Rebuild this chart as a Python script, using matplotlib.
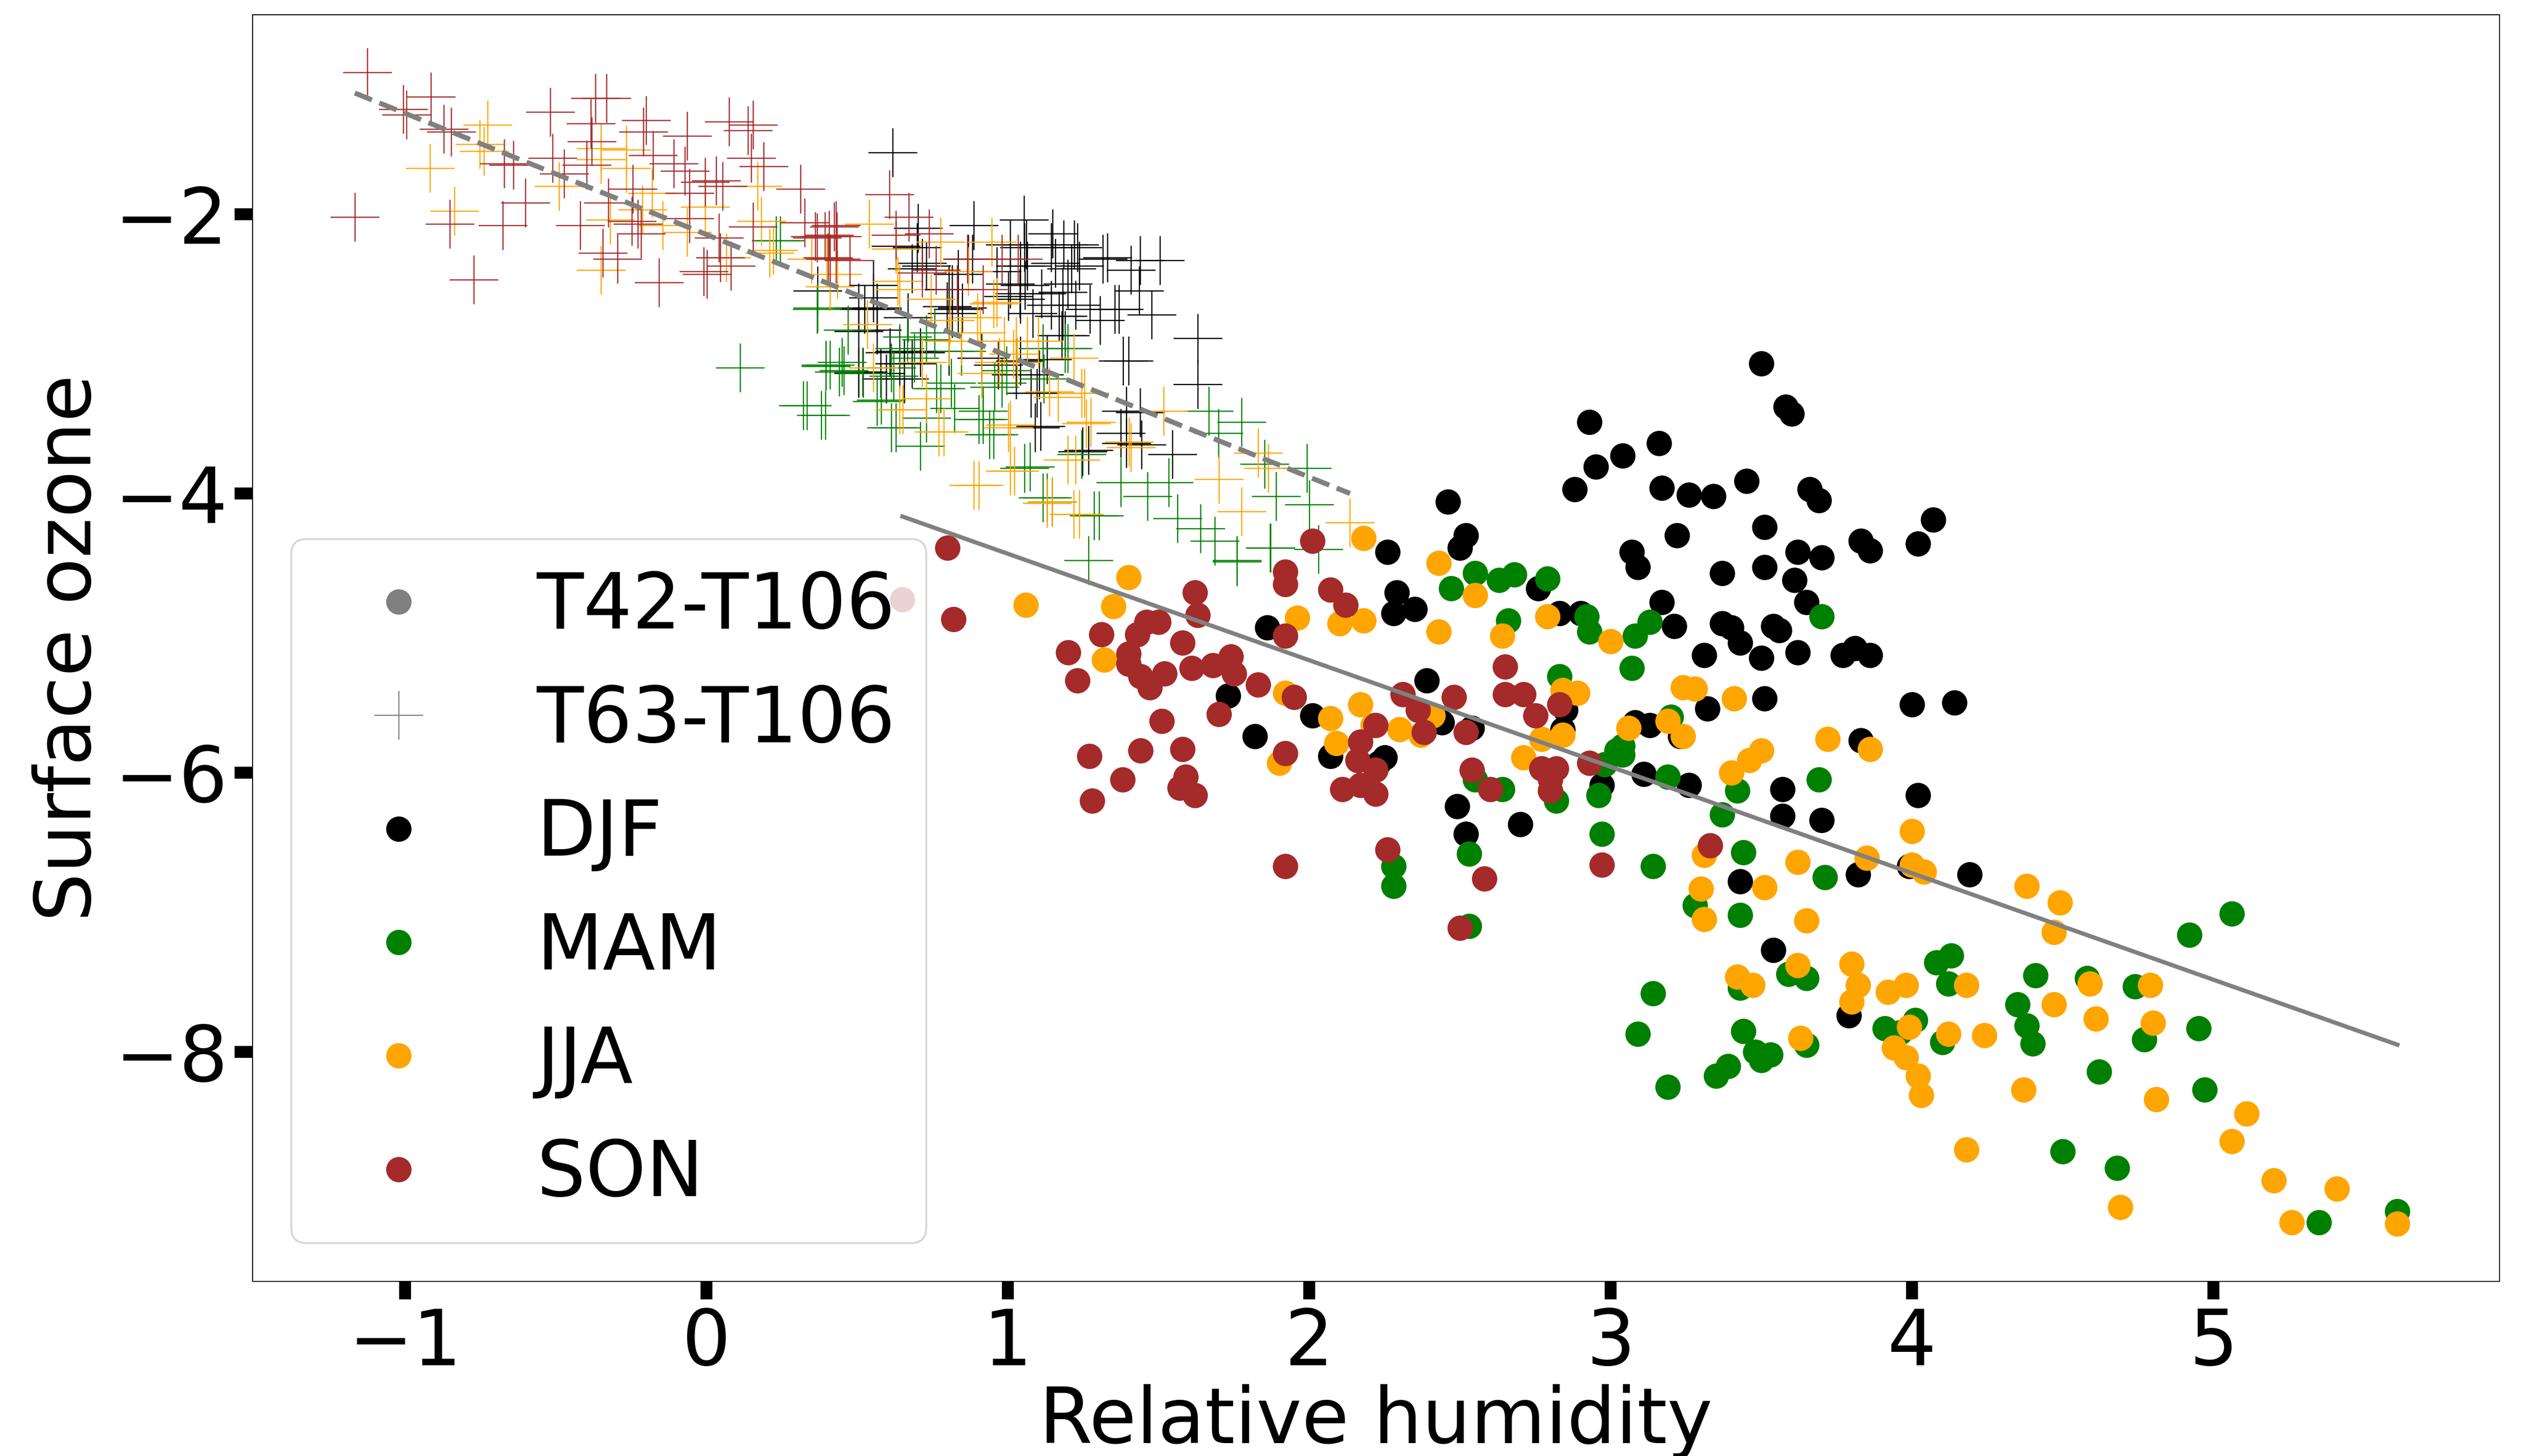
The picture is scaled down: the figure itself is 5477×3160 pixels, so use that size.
import numpy as np
import matplotlib
matplotlib.use("Agg")
from matplotlib import pyplot as plt
from matplotlib.lines import Line2D

# seasonal points, (relative humidity, surface ozone)
djf_dots = [(3.50,-3.07),(2.93,-3.49),(2.95,-3.81),(3.04,-3.73),(2.88,-3.97),(3.16,-3.64),(3.17,-3.96),
            (3.26,-4.01),(3.34,-4.02),(3.45,-3.91),(3.58,-3.38),(3.60,-3.43),(3.66,-3.97),(3.69,-4.05),
            (3.51,-4.24),(3.62,-4.42),(3.70,-4.46),(3.83,-4.34),(3.86,-4.41),(4.02,-4.36),(4.07,-4.19),
            (3.07,-4.42),(3.09,-4.53),(3.22,-4.30),(3.37,-4.57),(3.51,-4.53),(3.61,-4.62),(3.65,-4.78),
            (2.46,-4.06),(2.52,-4.30),(2.50,-4.39),(2.26,-4.42),(2.29,-4.71),(2.35,-4.83),(2.28,-4.86),
            (2.76,-4.68),(2.83,-4.86),(2.90,-4.86),(3.17,-4.78),(3.21,-4.95),(3.37,-4.93),(3.40,-4.96),
            (3.43,-5.07),(3.31,-5.16),(3.54,-4.95),(3.56,-4.98),(3.50,-5.18),(3.62,-5.14),(3.77,-5.16),
            (3.81,-5.11),(3.86,-5.16),(4.00,-5.51),(4.14,-5.50),(3.51,-5.47),(3.13,-5.66),(3.32,-5.54),
            (3.83,-5.77),(4.02,-6.16),(4.19,-6.73),(3.99,-6.67),(3.82,-6.73),(3.43,-6.78),(3.54,-7.27),
            (3.79,-7.74),(3.70,-6.34),(3.57,-6.31),(3.57,-6.12),(3.23,-5.74),(3.26,-6.09),(3.11,-6.01),
            (2.97,-6.09),(3.08,-5.64),(2.85,-5.55),(2.84,-5.69),(2.70,-6.37),(2.52,-6.44),(2.49,-6.24),
            (2.54,-5.68),(2.44,-5.64),(2.39,-5.34),(2.25,-5.89),(2.23,-5.93),(2.07,-5.88),(2.01,-5.59),
            (1.86,-4.96),(1.82,-5.74),(1.73,-5.45)]

mam_dots = [(2.55,-4.57),(2.63,-4.62),(2.68,-4.58),(2.79,-4.61),(2.47,-4.68),(2.66,-4.91),(2.92,-4.88),
            (2.93,-4.99),(3.13,-4.92),(3.08,-5.02),(2.83,-5.31),(3.07,-5.25),(3.70,-4.88),(2.55,-6.05),
            (2.64,-6.12),(2.80,-6.13),(2.82,-6.20),(2.96,-6.16),(2.98,-5.94),(3.02,-5.84),(3.04,-5.81),
            (3.20,-5.60),(3.04,-5.87),(3.19,-6.03),(3.42,-6.13),(3.37,-6.30),(3.44,-6.57),(3.69,-6.05),
            (3.71,-6.75),(2.97,-6.44),(2.53,-6.58),(2.28,-6.67),(2.28,-6.81),(2.53,-7.10),(3.14,-6.67),
            (3.28,-6.95),(3.43,-7.02),(3.14,-7.58),(3.09,-7.87),(3.19,-8.25),(3.43,-7.54),(3.44,-7.85),
            (3.39,-8.10),(3.50,-8.06),(3.48,-8.00),(3.53,-8.02),(3.35,-8.17),(3.65,-7.95),(3.59,-7.44),
            (3.65,-7.47),(3.91,-7.83),(3.96,-7.86),(4.01,-7.77),(4.10,-7.93),(4.12,-7.51),(4.08,-7.36),
            (4.13,-7.31),(4.35,-7.66),(4.38,-7.81),(4.40,-7.94),(4.41,-7.45),(4.50,-8.71),(4.62,-8.14),
            (4.68,-8.83),(4.74,-7.53),(4.77,-7.91),(4.95,-7.83),(4.97,-8.27),(4.92,-7.16),(5.06,-7.01),
            (5.35,-9.22),(5.61,-9.14),(4.58,-7.47)]

jja_dots = [(2.18,-4.32),(1.40,-4.60),(1.06,-4.80),(1.35,-4.81),(1.32,-5.19),(2.43,-4.50),(2.10,-4.93),
            (2.18,-4.91),(2.17,-5.51),(1.96,-4.89),(2.43,-4.99),(2.55,-4.73),(2.64,-5.02),(2.79,-4.88),
            (3.00,-5.06),(2.84,-5.41),(2.89,-5.43),(3.24,-5.39),(3.28,-5.40),(3.41,-5.47),(3.50,-5.84),
            (3.72,-5.76),(3.86,-5.83),(3.40,-6.00),(3.46,-5.91),(3.06,-5.68),(2.84,-5.73),(2.77,-5.76),
            (2.71,-5.89),(2.41,-5.59),(2.37,-5.73),(2.30,-5.69),(2.21,-5.66),(2.09,-5.79),(2.07,-5.61),
            (1.92,-5.43),(1.90,-5.93),(3.24,-5.74),(3.19,-5.63),(3.31,-6.59),(3.30,-6.83),(3.31,-7.05),
            (3.51,-6.82),(3.62,-6.64),(3.65,-7.06),(3.85,-6.61),(4.00,-6.42),(4.00,-6.66),(4.04,-6.71),
            (4.38,-6.81),(4.49,-6.93),(4.47,-7.14),(3.42,-7.46),(3.47,-7.52),(3.62,-7.38),(3.63,-7.90),
            (3.80,-7.37),(3.82,-7.52),(3.80,-7.64),(3.92,-7.57),(3.98,-7.52),(3.99,-7.82),(3.98,-8.04),
            (4.02,-8.17),(4.03,-8.31),(3.94,-7.97),(4.12,-7.87),(4.18,-7.52),(4.24,-7.88),(4.18,-8.70),
            (4.37,-8.27),(4.47,-7.66),(4.59,-7.51),(4.61,-7.76),(4.69,-9.11),(4.79,-7.52),(4.80,-7.79),
            (4.81,-8.34),(5.06,-8.64),(5.11,-8.44),(5.20,-8.92),(5.26,-9.22),(5.41,-8.98),(5.61,-9.23)]

son_dots = [(0.80,-4.39),(0.65,-4.76),(0.82,-4.90),(1.20,-5.14),(1.23,-5.34),(1.31,-5.01),(1.40,-5.15),
            (1.43,-5.01),(1.46,-4.92),(1.50,-4.92),(1.40,-5.22),(1.44,-5.31),(1.47,-5.39),(1.52,-5.29),
            (1.62,-4.71),(1.63,-4.87),(1.58,-5.07),(1.61,-5.25),(1.68,-5.23),(1.74,-5.17),(1.75,-5.29),
            (1.92,-4.56),(1.92,-4.65),(1.92,-5.02),(2.01,-4.34),(2.07,-4.69),(2.12,-4.80),(1.27,-5.88),
            (1.28,-6.20),(1.38,-6.05),(1.44,-5.84),(1.51,-5.63),(1.58,-5.83),(1.59,-6.03),(1.57,-6.11),
            (1.62,-6.16),(1.70,-5.58),(1.83,-5.37),(1.92,-5.86),(1.95,-5.46),(1.92,-6.67),(2.11,-6.12),
            (2.16,-5.91),(2.17,-6.09),(2.22,-5.98),(2.22,-6.15),(2.17,-5.78),(2.22,-5.66),(2.31,-5.44),
            (2.26,-6.55),(2.36,-5.55),(2.48,-5.46),(2.50,-7.11),(2.54,-5.98),(2.58,-6.76),(2.60,-6.12),
            (2.65,-5.44),(2.71,-5.44),(2.75,-5.59),(2.77,-5.97),(2.80,-6.05),(2.82,-5.97),(2.83,-5.51),
            (2.80,-6.13),(2.93,-5.93),(2.97,-6.66),(3.33,-6.52),(2.65,-5.24),(2.52,-5.71),(2.38,-5.71)]

djf_cross = [(0.618,-1.56),(0.887,-2.08),(1.053,-2.04),(1.148,-2.14),(1.184,-2.22),(1.143,-2.24),
             (1.231,-2.24),(1.008,-2.22),(1.055,-2.24),(1.314,-2.32),(1.438,-2.33),(1.504,-2.33),
             (1.408,-2.40),(1.211,-2.39),(1.041,-2.37),(0.868,-2.32),(0.715,-2.35),(0.681,-2.39),
             (0.369,-2.55),(0.553,-2.51),(0.553,-2.60),(0.566,-2.68),(0.505,-2.84),(0.525,-2.68),
             (0.668,-2.74),(0.641,-2.98),(0.641,-3.07),(0.505,-3.14),(0.577,-3.14),(0.681,-3.07),
             (0.798,-2.66),(0.834,-2.68),(0.804,-2.54),(0.804,-2.98),(1.008,-2.50),(1.040,-2.57),
             (1.041,-2.61),(1.082,-2.71),(1.143,-2.65),(1.198,-2.50),(1.225,-2.65),(1.306,-2.76),
             (1.272,-2.68),(1.355,-2.68),(1.435,-2.55),(1.477,-2.72),(1.170,-2.73),(1.178,-2.87),
             (1.129,-3.04),(1.028,-3.06),(1.028,-3.15),(1.076,-3.28),(1.090,-3.53),(1.382,-3.05),
             (1.629,-2.89),(1.629,-3.22),(1.438,-3.42),(1.374,-3.57),(1.443,-3.65),(1.545,-3.72),
             (1.248,-3.70),(0.913,-3.03),(0.967,-3.08),(0.702,-2.10),(0.834,-2.43),(0.505,-2.67),
             (0.505,-3.13),(0.565,-2.67),(0.565,-2.83),(0.518,-3.13),(0.608,-2.99),(0.655,-3.07),
             (0.709,-2.99),(0.655,-3.18),(0.596,-3.18),(0.698,-2.24),(0.628,-2.23),(0.729,-2.37),
             (0.814,-2.54),(0.849,-2.67),(0.814,-2.71),(0.882,-2.32),(1.061,-2.22),(1.064,-2.37),
             (1.158,-2.35),(1.220,-2.22),(1.236,-2.37),(1.330,-2.31),(1.056,-2.51),(1.111,-2.57),
             (1.181,-2.56),(1.181,-2.73),(1.369,-2.68),(1.189,-2.87),(1.041,-3.05),(1.103,-3.15),
             (1.096,-3.28),(1.108,-3.52),(1.267,-3.69),(1.392,-3.41),(1.392,-3.64),(1.400,-3.05),
             (0.963,-2.41),(1.002,-2.59)]

mam_cross = [(0.381,-3.44),(0.321,-3.37),(0.396,-3.09),(0.450,-3.06),(0.613,-3.53),(0.709,-3.66),
             (0.566,-3.34),(0.519,-3.14),(0.367,-2.68),(0.641,-2.96),(0.763,-3.25),(0.811,-3.21),
             (0.903,-3.47),(0.939,-3.58),(1.055,-3.82),(1.129,-4.03),(1.286,-4.16),(1.268,-4.48),
             (1.245,-3.72),(1.374,-3.92),(1.463,-4.02),(1.534,-3.92),(1.562,-4.18),(1.639,-4.25),
             (1.687,-4.34),(1.759,-4.48),(1.775,-3.49),(1.699,-3.57),(1.667,-3.41),(1.851,-3.79),
             (1.890,-4.02),(2.000,-4.08),(1.992,-3.82),(1.871,-4.39),(2.030,-4.40),(1.116,-2.96),
             (1.198,-2.96),(0.980,-3.21),(0.613,-3.10),(0.845,-2.98),(0.756,-2.85),(0.111,-3.10),
             (0.396,-3.08),(0.440,-3.13),(0.231,-2.19),(0.368,-2.67),(0.469,-2.83),(1.760,-4.49),
             (1.870,-4.39),(0.409,-3.08),(0.456,-3.12),(0.333,-3.37),(0.394,-3.44),(0.628,-3.53),
             (0.580,-3.33),(0.917,-3.41),(0.917,-3.47),(0.952,-3.58),(1.073,-3.81),(1.116,-4.03),
             (1.146,-4.06),(1.302,-4.16),(0.822,-3.39),(0.776,-3.25),(0.729,-3.46),(0.995,-3.12),
             (1.119,-3.18),(1.189,-2.96),(0.690,-3.03),(0.666,-2.88),(0.729,-2.90),(0.620,-3.16),
             (0.245,-2.19),(0.955,-3.24)]

jja_cross = [(-0.726,-1.36),(-0.753,-1.50),(-0.738,-1.55),(-0.918,-1.67),(-0.836,-1.98),(-0.489,-1.80),
             (-0.350,-1.53),(-0.266,-1.54),(-0.350,-1.61),(-0.266,-1.67),(-0.181,-1.85),(-0.320,-2.04),
             (-0.350,-2.40),(-0.005,-1.95),(-0.065,-2.13),(0.170,-1.80),(0.181,-2.05),(0.066,-2.31),
             (0.210,-2.28),(0.399,-2.31),(0.434,-2.43),(0.539,-2.07),(-0.146,-2.08),(-0.212,-1.97),
             (0.776,-2.20),(0.947,-2.20),(0.348,-2.32),(0.641,-2.54),(0.953,-2.64),(0.899,-2.74),
             (0.804,-2.91),(0.988,-2.91),(1.028,-2.91),(1.218,-3.03),(0.715,-3.06),(0.553,-3.10),
             (0.913,-3.14),(1.137,-3.27),(1.253,-3.28),(0.729,-3.32),(0.641,-3.40),(0.770,-3.56),
             (1.008,-3.51),(1.259,-3.50),(1.198,-3.76),(1.008,-3.84),(0.887,-3.94),(1.129,-4.07),
             (1.218,-4.15),(1.402,-3.63),(1.408,-3.67),(1.517,-3.41),(1.830,-3.71),(1.864,-3.82),
             (1.700,-3.90),(1.775,-4.13),(2.135,-4.21),(1.030,-3.06),(1.100,-2.91),(0.904,-3.94),
             (1.021,-3.84),(1.146,-4.06),(1.236,-4.15),(1.224,-3.76),(1.275,-3.49),(0.787,-3.56),
             (0.651,-3.40),(1.002,-3.53),(1.166,-3.31),(1.244,-3.28),(0.970,-3.06),(0.846,-2.91),
             (0.908,-2.85),(1.064,-2.91),(1.018,-3.00),(0.744,-2.61),(0.635,-2.48),(0.534,-2.79),
             (0.409,-2.52),(0.628,-2.25),(0.222,-2.26),(0.963,-2.63),(0.807,-2.76),(0.869,-2.41)]

son_cross = [(-1.125,-0.985),(-0.915,-1.16),(-1.006,-1.25),(-0.995,-1.29),(-0.871,-1.39),(-0.848,-1.41),
             (-0.518,-1.27),(-0.368,-1.17),(-0.332,-1.17),(-0.384,-1.35),(-0.201,-1.33),(-0.210,-1.41),
             (-0.065,-1.44),(0.075,-1.34),(0.154,-1.36),(0.138,-1.40),(0.148,-1.60),(0.190,-1.66),
             (0.311,-1.82),(-0.671,-1.64),(-0.641,-1.65),(-1.167,-2.02),(-0.852,-2.07),(-0.676,-2.08),
             (-0.601,-1.92),(-0.772,-2.47),(-0.511,-1.60),(-0.472,-1.71),(-0.381,-1.48),(-0.397,-1.65),
             (-0.419,-2.08),(-0.295,-2.32),(-0.245,-1.82),(-0.228,-2.07),(-0.157,-2.49),(-0.177,-1.58),
             (-0.108,-1.64),(-0.072,-1.69),(-0.056,-1.85),(-0.056,-2.03),(-0.005,-1.77),(0.032,-1.76),
             (0.053,-1.80),(0.041,-2.17),(-0.009,-2.41),(0.002,-2.43),(0.081,-2.37),(0.045,-2.31),
             (-0.217,-2.14),(0.154,-2.09),(0.326,-2.06),(0.361,-2.16),(0.392,-2.16),(0.403,-2.31),
             (0.429,-2.08),(0.475,-2.33),(-0.344,-2.28),(-0.248,-2.05),(-0.326,-1.92),(0.607,-1.86),
             (0.671,-2.02),(0.423,-2.09),(0.367,-2.17),(0.406,-2.15),(0.429,-2.32),(0.865,-2.32),
             (0.738,-2.14),(0.715,-2.42),(0.831,-2.54),(0.980,-2.32),(0.432,-2.16),(0.628,-2.15),
             (0.761,-2.40),(0.409,-2.32),(1.033,-2.32),(0.917,-2.54)]

seasons = ["DJF", "MAM", "JJA", "SON"]
colors = ["black", "green", "orange", "brown"]
dots = [djf_dots, mam_dots, jja_dots, son_dots]
crosses = [djf_cross, mam_cross, jja_cross, son_cross]

FS = 40
DOT = 13.2
CROSS = 25.6

fig = plt.figure(figsize=(5477/300, 3160/300), dpi=300)
ax = fig.add_axes([0.1001, 0.1199, 0.8902, 0.8700])

for pts, c in zip(crosses, colors):
    x, y = np.array(pts).T
    ax.plot(x, y, ls="", marker="+", ms=CROSS, mew=0.6, color=c)

for pts, c in zip(dots, colors):
    x, y = np.array(pts).T
    ax.plot(x, y, ls="", marker="o", ms=DOT, mew=0, color=c)

# linear fits over each set
allc = np.vstack([np.array(p) for p in crosses])
alld = np.vstack([np.array(p) for p in dots])
for arr, ls, lw in [(allc, "--", 2.6), (alld, "-", 2.2)]:
    k, b = np.polyfit(arr[:, 0], arr[:, 1], 1)
    xx = np.array([arr[:, 0].min(), arr[:, 0].max()])
    ax.plot(xx, k*xx + b, ls=ls, lw=lw, color="gray")

handles = [Line2D([], [], ls="", marker="o", ms=DOT, mew=0, color="gray"),
           Line2D([], [], ls="", marker="+", ms=CROSS, mew=0.6, color="gray")]
handles += [Line2D([], [], ls="", marker="o", ms=DOT, mew=0, color=c) for c in colors]
labels = ["T42-T106", "T63-T106"] + seasons
ax.legend(handles, labels, loc="lower left", fontsize=FS, numpoints=1)

ax.set_xlabel("Relative humidity", fontsize=FS, labelpad=1.5)
ax.set_ylabel("Surface ozone", fontsize=FS)
ax.tick_params(labelsize=FS, direction="out", length=9.4, width=6.2)
for s in ax.spines.values():
    s.set_linewidth(0.5)

fig.savefig("out.png", dpi=300)
